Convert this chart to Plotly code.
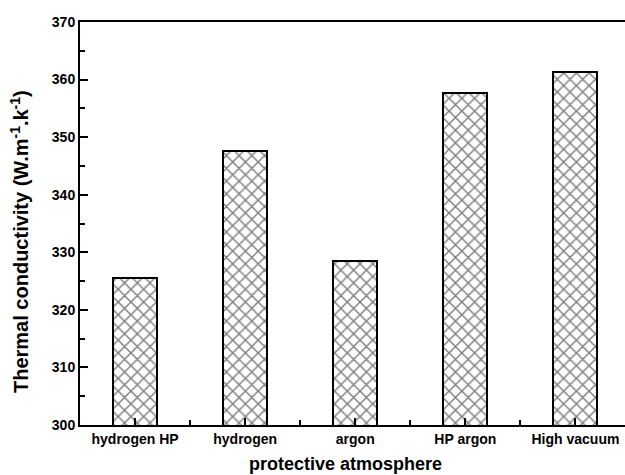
import plotly.graph_objects as go

categories = ["hydrogen HP", "hydrogen", "argon", "HP argon", "High vacuum"]
values = [325.6, 347.6, 328.5, 357.6, 361.4]
y_ticks = [300, 310, 320, 330, 340, 350, 360, 370]

positions = list(range(len(categories)))

fig = go.Figure()
fig.add_trace(go.Bar(
    x=positions,
    y=values,
    width=0.4,
    marker=dict(
        color="white",
        line=dict(color="black", width=2),
        pattern=dict(shape="x", fgcolor="#000000", bgcolor="white", size=9, solidity=0.3),
    ),
    showlegend=False,
))

font_family = "Liberation Sans, Arial, sans-serif"

W, H = 625, 475
L, R, T, B = 80, 0, 22, 50

fig.update_layout(
    width=W,
    height=H,
    margin=dict(l=L, r=R, t=T, b=B, autoexpand=False),
    plot_bgcolor="white",
    paper_bgcolor="white",
    font=dict(family=font_family, color="black"),
    bargap=0,
)

fig.update_xaxes(
    range=[-0.5, 4.45],
    tickvals=positions,
    ticktext=[f"<b>{c}</b>" for c in categories],
    tickfont=dict(size=14, family=font_family),
    ticks="inside",
    ticklen=7,
    tickwidth=1.5,
    tickcolor="black",
    minor=dict(dtick=0.5, tick0=0, ticks="inside", ticklen=5, tickwidth=1.5, tickcolor="black", showgrid=False),
    showline=True,
    linecolor="black",
    linewidth=2,
    mirror=True,
    showgrid=False,
    zeroline=False,
    automargin=False,
)

fig.update_yaxes(
    range=[300, 370],
    tickvals=y_ticks,
    ticktext=[f"<b>{t}</b>" for t in y_ticks],
    tickfont=dict(size=14, family=font_family),
    ticks="inside",
    ticklen=8,
    tickwidth=1.5,
    tickcolor="black",
    minor=dict(dtick=5, tick0=300, ticks="inside", ticklen=5, tickwidth=1.5, tickcolor="black", showgrid=False),
    showline=True,
    linecolor="black",
    linewidth=2,
    mirror=False,
    showgrid=False,
    zeroline=False,
    automargin=False,
)

plot_h = H - T - B
fig.add_annotation(
    text="<b>protective atmosphere</b>",
    xref="paper", yref="paper",
    x=(345 - L) / (W - L - R), y=-(464 - (H - B)) / plot_h,
    xanchor="center", yanchor="middle",
    showarrow=False,
    font=dict(size=18, family=font_family, color="black"),
)
fig.add_annotation(
    text="<b>Thermal conductivity (W.m<sup>-1</sup>.k<sup>-1</sup>)</b>",
    xref="paper", yref="paper",
    x=-(L - 19) / (W - L - R), y=((H - B) - 242) / plot_h,
    xanchor="center", yanchor="middle",
    textangle=-90,
    showarrow=False,
    font=dict(size=20, family=font_family, color="black"),
)

fig.write_html(
    "out.html",
    config={"displayModeBar": False},
    post_script="document.body.style.margin='0px';",
)
